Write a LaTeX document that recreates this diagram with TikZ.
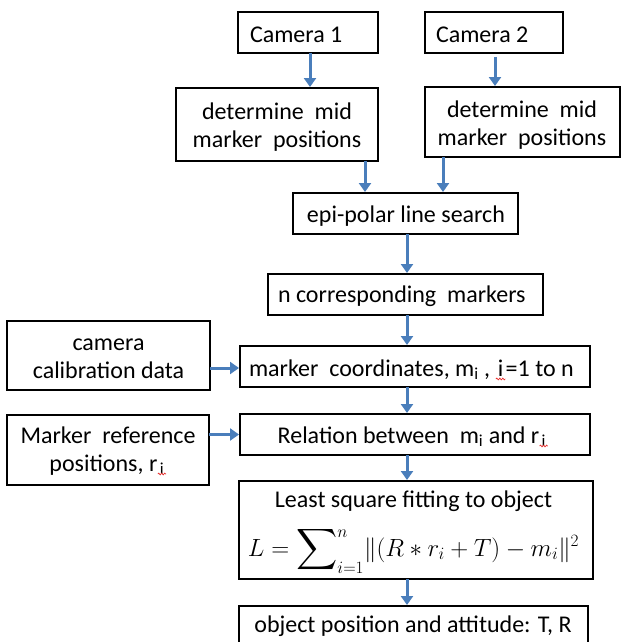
\documentclass[tikz,border=0pt]{standalone}
\usepackage{fontspec}
\setmainfont{Carlito}
\usepackage{amsmath}
\usepackage{graphicx}
\usetikzlibrary{arrows.meta,decorations.pathmorphing}

\definecolor{flowblue}{HTML}{4A7EBB}
\definecolor{spellred}{HTML}{E8312F}

\tikzset{
  box/.style={draw=black, line width=2.4pt, inner sep=0pt, outer sep=0pt},
  txt/.style={inner sep=0pt, outer sep=0pt, font=\fontsize{24}{28}\selectfont, text=black},
  arr/.style={draw=flowblue, line width=3pt,
    -{Triangle[width=12pt,length=9pt]}, shorten >=1pt},
  squig/.style={draw=spellred, line width=0.7pt, decorate,
    decoration={snake, amplitude=0.9pt, segment length=3pt}}
}

% box from its corners (x1,y1) (x2,y2), in pixel units
\newcommand\flowbox[5]{%
  \node[box, minimum width={#4-#2}, minimum height={#5-#3}]
    (#1) at ({(#2+#4)/2},{(#3+#5)/2}) {};}

% wavy proofing underline below a piece of text
\newcommand\spellmark[1]{\tikz[baseline=(sm.base)]{%
  \node[inner sep=0pt, outer sep=0pt] (sm) {#1};
  \draw[squig] ([xshift=-2pt,yshift=-3pt]sm.base west) -- ([xshift=2pt,yshift=-3pt]sm.base east);}}

\begin{document}
\begin{tikzpicture}[x=1pt, y=-1pt]
\clip (0,0) rectangle (622,642);
\fill[white] (0,0) rectangle (622,642);

% boxes
\flowbox{cam1}{238}{12}{378}{53}
\flowbox{cam2}{425}{12}{563}{53}
\flowbox{det1}{176}{88}{378}{161}
\flowbox{det2}{425}{87}{620}{157}
\flowbox{epi}{293}{193}{518}{234}
\flowbox{ncor}{268}{274}{543}{315}
\flowbox{calib}{7}{321}{210}{390}
\flowbox{mcoord}{240}{346}{590}{387}
\flowbox{mref}{7}{415}{209}{485}
\flowbox{rel}{240}{414}{590}{455}
\flowbox{lsq}{239}{481}{593}{579}
\flowbox{obj}{239}{606}{588}{664}

% texts (multi-line nodes sit on the baseline of their last line)
\node[txt, anchor=base west] (cam1-t) at (250,42) {Camera 1};
\node[txt, anchor=base west] (cam2-t) at (436,42) {Camera 2};
\node[txt, anchor=base, align=center] (det1-t) at (277,147) {determine\ \ mid\\marker\ \ positions};
\node[txt, anchor=base, align=center] (det2-t) at (522,145) {determine\ \ mid\\marker\ \ positions};
\node[txt, anchor=base] (epi-t) at (406,222) {epi-polar line search};
\node[txt, anchor=base west] (ncor-t) at (278,302) {n corresponding\ \ markers};
\node[txt, anchor=base west] (mcoord-t) at (249,376)
  {marker\ \ coordinates, m\textsubscript{i} , \spellmark{i}=1 to n};
\node[txt, anchor=base, align=center] (calib-t) at (108.5,378) {camera\\calibration data};
\node[txt, anchor=base, align=center] (mref-t) at (108,471)
  {Marker\ \ reference\\positions, r\spellmark{\textsubscript{i}}};
\node[txt, anchor=base] (rel-t) at (413,443)
  {Relation between\ \ m\textsubscript{i} and r\spellmark{\textsubscript{i}}};
\node[txt, anchor=base] (lsq-t) at (413.5,507) {Least square fitting to object};
\node[txt, anchor=base, font=\fontsize{23}{27}\selectfont] (lsq-f) at (413.5,556)
  {$L=\mathop{\vcenter{\hbox{\scalebox{1.15}{$\displaystyle\sum$}}}}\nolimits_{i=1}^{\raisebox{-4pt}{$\scriptstyle n$}}
   \lVert(R\ast r_i+T)-m_i\rVert^{2}$};
\node[txt, anchor=base] (obj-t) at (413,632) {object position and attitude: T, R};

% connectors
\coordinate (c1) at ([xshift=2pt]cam1.south);
\draw[arr] (c1) -- (c1 |- det1.north);
\coordinate (c2) at ([xshift=1pt,yshift=-4pt]cam2.south);
\draw[arr] (c2) -- (c2 |- det2.north);
\coordinate (c3) at ([xshift=-13pt]det1.south east);
\draw[arr] (c3) -- (c3 |- epi.north);
\coordinate (c4) at ([xshift=18pt]det2.south west);
\draw[arr] (c4) -- (c4 |- epi.north);
\coordinate (sp) at ([xshift=1.5pt]epi.south);
\draw[arr] (sp) -- (sp |- ncor.north);
\draw[arr] (sp |- ncor.south) -- (sp |- mcoord.north);
\draw[arr] (sp |- mcoord.south) -- (sp |- rel.north);
\draw[arr] (sp |- rel.south) -- (sp |- lsq.north);
\draw[arr] (sp |- lsq.south) -- (sp |- obj.north);
\coordinate (c5) at ([yshift=-12.5pt]calib.east);
\draw[arr] (c5) -- (c5 -| mcoord.west);
\draw[arr] (rel.west -| mref.east) -- (rel.west);
\end{tikzpicture}
\end{document}
